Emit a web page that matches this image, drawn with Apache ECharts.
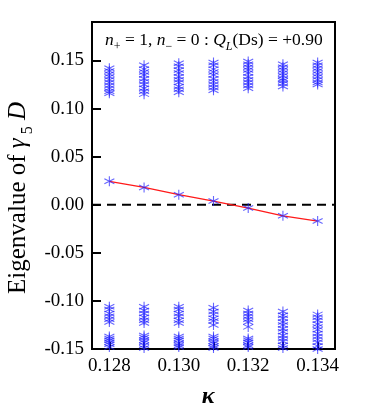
<!DOCTYPE html>
<html>
<head>
<meta charset="utf-8">
<script src="https://cdn.jsdelivr.net/npm/echarts@6/dist/echarts.min.js"></script>
<style>html,body{margin:0;padding:0;background:#fff}#c{width:382px;height:414px}</style>
</head>
<body>
<div id="c"></div>
<script>
const kappa = [0.128, 0.129, 0.130, 0.131, 0.132, 0.133, 0.134];
const lowestEig = [0.0243, 0.0180, 0.0104, 0.0038, -0.0035, -0.0115, -0.0170];
const upperEig = [
  [0.142, 0.139, 0.136, 0.133, 0.130, 0.127, 0.124, 0.121, 0.118, 0.116],
  [0.145, 0.141, 0.138, 0.135, 0.131, 0.128, 0.125, 0.121, 0.118, 0.115],
  [0.147, 0.144, 0.140, 0.137, 0.133, 0.130, 0.127, 0.123, 0.120, 0.117],
  [0.148, 0.145, 0.141, 0.138, 0.135, 0.131, 0.128, 0.125, 0.122, 0.119],
  [0.149, 0.146, 0.143, 0.140, 0.137, 0.133, 0.130, 0.127, 0.124, 0.121],
  [0.146, 0.143, 0.140, 0.137, 0.134, 0.131, 0.129, 0.126, 0.123],
  [0.148, 0.145, 0.142, 0.139, 0.136, 0.133, 0.130, 0.127, 0.125]
];
const lowerEig = [
  [-0.106, -0.109, -0.113, -0.116, -0.119, -0.122, -0.137, -0.139, -0.141, -0.143, -0.145, -0.148],
  [-0.106, -0.110, -0.113, -0.117, -0.120, -0.123, -0.136, -0.138, -0.141, -0.143, -0.146, -0.149],
  [-0.106, -0.109, -0.113, -0.116, -0.120, -0.123, -0.137, -0.139, -0.141, -0.144, -0.146, -0.148],
  [-0.107, -0.111, -0.114, -0.118, -0.121, -0.125, -0.137, -0.139, -0.142, -0.144, -0.147, -0.149],
  [-0.110, -0.113, -0.116, -0.119, -0.122, -0.127, -0.139, -0.141, -0.143, -0.146, -0.148],
  [-0.111, -0.115, -0.118, -0.122, -0.125, -0.129, -0.132, -0.136, -0.139, -0.142, -0.146, -0.149],
  [-0.114, -0.117, -0.120, -0.124, -0.127, -0.130, -0.134, -0.137, -0.140, -0.143, -0.147, -0.150]
];
const xTicks = [0.128, 0.129, 0.130, 0.131, 0.132, 0.133, 0.134];
const xLabels = [0.128, 0.130, 0.132, 0.134];
const yTicks = [-0.15, -0.10, -0.05, 0.00, 0.05, 0.10, 0.15];

const star = 'path://M0,-5L0,5M-4.33,-2.5L4.33,2.5M-4.33,2.5L4.33,-2.5M0,-5L0,5';
const blue = 'rgba(30,30,255,0.85)';
const font = '"Liberation Serif", "DejaVu Serif", serif';

const clusterData = [];
kappa.forEach((k, i) => {
  upperEig[i].forEach(v => clusterData.push([k, v]));
  lowerEig[i].forEach(v => clusterData.push([k, v]));
});
const lineData = kappa.map((k, i) => [k, lowestEig[i]]);

const chart = echarts.init(document.getElementById('c'), null, {renderer: 'canvas'});
chart.setOption({
  animation: false,
  backgroundColor: '#fff',
  grid: {left: 92, right: 47, top: 22, bottom: 65, show: true, borderColor: '#000', borderWidth: 2, backgroundColor: 'transparent'},
  xAxis: {
    type: 'value', min: 0.1275, max: 0.1345,
    axisLine: {show: true, onZero: false, lineStyle: {color: '#000', width: 2}},
    axisTick: {show: true, inside: true, length: 7, lineStyle: {color: '#000', width: 2}, customValues: xTicks},
    axisLabel: {color: '#000', fontFamily: font, fontSize: 19, margin: 8, customValues: xLabels, formatter: v => v.toFixed(3)},
    splitLine: {show: false}
  },
  yAxis: {
    type: 'value', min: -0.15, max: 0.19,
    axisLine: {show: true, onZero: false, lineStyle: {color: '#000', width: 2}},
    axisTick: {show: true, inside: true, length: 9, lineStyle: {color: '#000', width: 2}, customValues: yTicks},
    axisLabel: {color: '#000', fontFamily: font, fontSize: 19, margin: 8, customValues: yTicks, formatter: v => v.toFixed(2)},
    splitLine: {show: false}
  },
  graphic: [
    {
      type: 'text', left: 105, top: 31, z: 100,
      style: {
        text: '{i|n}{s|+}{r| = 1, }{i|n}{s|−}{r| = 0 : }{i|Q}{si|L}{r|(Ds) = +0.90}',
        rich: {
          i: {fontFamily: font, fontStyle: 'italic', fontSize: 17.5, fill: '#000', verticalAlign: 'bottom', lineHeight: 22},
          r: {fontFamily: font, fontSize: 17.5, fill: '#000', verticalAlign: 'bottom', lineHeight: 22},
          s: {fontFamily: font, fontSize: 12, fill: '#000', verticalAlign: 'bottom', lineHeight: 22, padding: [0, 0, -4, 0]},
          si: {fontFamily: font, fontStyle: 'italic', fontSize: 12, fill: '#000', verticalAlign: 'bottom', lineHeight: 22, padding: [0, 0, -4, 0]}
        }
      }
    },
    {
      type: 'text', x: 17, y: 198, rotation: Math.PI / 2, z: 100,
      style: {
        text: '{r|Eigenvalue of }{i|γ}{s| 5}{i| D}',
        align: 'center', verticalAlign: 'middle',
        rich: {
          r: {fontFamily: font, fontSize: 25, fill: '#000', verticalAlign: 'bottom', lineHeight: 28},
          i: {fontFamily: font, fontStyle: 'italic', fontSize: 25, fill: '#000', verticalAlign: 'bottom', lineHeight: 28},
          s: {fontFamily: font, fontSize: 16, fill: '#000', verticalAlign: 'bottom', lineHeight: 28, padding: [0, 0, -5, 0]}
        }
      }
    },
    {
      type: 'text', x: 208, y: 397, z: 100,
      style: {text: 'κ', fontFamily: font, fontStyle: 'italic', fontWeight: 'bold', fontSize: 24, fill: '#000', align: 'center', verticalAlign: 'middle'}
    }
  ],
  series: [
    {
      type: 'line', data: [[0.1275, 0], [0.1345, 0]], symbol: 'none', silent: true,
      lineStyle: {color: '#000', width: 2, type: [9, 6]}, z: 1
    },
    {
      type: 'line', data: lineData, symbol: 'none',
      lineStyle: {color: '#ff1a1a', width: 1.3}, z: 2
    },
    {
      type: 'scatter', data: lineData, symbol: star, symbolSize: 10,
      itemStyle: {color: 'transparent', borderColor: blue, borderWidth: 1.1}, z: 3
    },
    {
      type: 'scatter', data: clusterData, symbol: star, symbolSize: 10,
      itemStyle: {color: 'transparent', borderColor: blue, borderWidth: 1.1}, z: 3
    }
  ]
});
</script>
</body>
</html>
